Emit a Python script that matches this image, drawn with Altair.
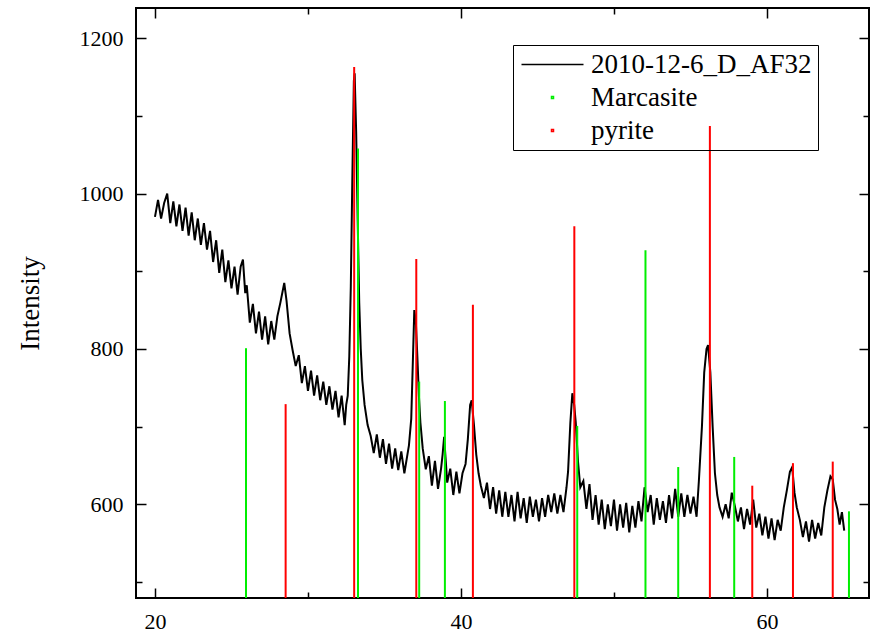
import altair as alt
import pandas as pd

# ---------------- data ----------------
two_theta = [
    20.0, 20.2, 20.4, 20.6, 20.8, 21.0, 21.2, 21.4, 21.6, 21.8, 22.0, 22.2, 22.4, 22.6, 22.8,
    23.0, 23.2, 23.4, 23.6, 23.8, 24.0, 24.2, 24.4, 24.6, 24.8, 25.0, 25.2, 25.4, 25.6, 25.75,
    25.9, 26.0, 26.2, 26.4, 26.6, 26.8, 27.0, 27.2, 27.4, 27.6, 27.8, 28.0, 28.2, 28.45, 28.6,
    28.8, 29.0, 29.2, 29.4, 29.6, 29.8, 30.0, 30.2, 30.4, 30.6, 30.8, 31.0, 31.2, 31.4, 31.6,
    31.8, 32.0, 32.2, 32.4, 32.5, 32.6, 32.7, 32.8, 32.9, 33.0, 33.05, 33.15, 33.25, 33.35, 33.45,
    33.55, 33.7, 33.9, 34.1, 34.3, 34.5, 34.7, 34.9, 35.1, 35.3, 35.5, 35.7, 35.9, 36.1, 36.3,
    36.5, 36.6, 36.75, 36.85, 36.95, 37.05, 37.15, 37.25, 37.35, 37.5, 37.7, 37.9, 38.1, 38.3, 38.5,
    38.7, 38.8, 38.9, 39.0, 39.1, 39.3, 39.5, 39.7, 39.9, 40.1, 40.3, 40.45, 40.6, 40.7, 40.85,
    41.0, 41.15, 41.3, 41.5, 41.7, 41.9, 42.1, 42.3, 42.5, 42.7, 42.9, 43.1, 43.3, 43.5, 43.7,
    43.9, 44.1, 44.3, 44.5, 44.7, 44.9, 45.1, 45.3, 45.5, 45.7, 45.9, 46.1, 46.3, 46.5, 46.7,
    46.9, 47.0, 47.15, 47.28, 47.4, 47.5, 47.65, 47.8, 48.0, 48.2, 48.4, 48.6, 48.8, 49.0, 49.2,
    49.4, 49.6, 49.8, 50.0, 50.2, 50.4, 50.6, 50.8, 51.0, 51.2, 51.4, 51.6, 51.8, 52.0, 52.2,
    52.4, 52.6, 52.8, 53.0, 53.2, 53.4, 53.6, 53.8, 54.0, 54.2, 54.4, 54.6, 54.8, 55.0, 55.2,
    55.4, 55.55, 55.75, 55.9, 56.05, 56.15, 56.3, 56.45, 56.6, 56.75, 56.9, 57.1, 57.3, 57.5, 57.7,
    57.9, 58.1, 58.3, 58.5, 58.7, 58.9, 59.1, 59.3, 59.5, 59.7, 59.9, 60.1, 60.3, 60.5, 60.7,
    60.9, 61.1, 61.3, 61.5, 61.65, 61.8, 61.95, 62.15, 62.35, 62.55, 62.75, 62.95, 63.15, 63.35, 63.55,
    63.75, 63.95, 64.15, 64.3, 64.45, 64.6, 64.75, 64.9, 65.05,
]
intensity = [
    970, 992, 968, 988, 1000, 962, 990, 958, 986, 952, 982, 946, 976, 940, 968,
    934, 962, 928, 952, 912, 940, 898, 928, 886, 914, 878, 906, 870, 906, 915,
    872, 882, 834, 858, 820, 848, 812, 842, 806, 836, 812, 842, 860, 885, 862,
    820, 798, 778, 792, 756, 778, 746, 772, 740, 766, 734, 758, 728, 752, 722,
    746, 712, 740, 702, 728, 740, 790, 880, 1020, 1145, 1155, 1080, 965, 860, 800,
    760, 728, 702, 688, 666, 690, 660, 684, 652, 678, 646, 672, 644, 668, 640,
    664, 676, 710, 780, 850, 835, 790, 740, 705, 672, 645, 662, 624, 656, 620,
    646, 664, 687, 658, 628, 646, 612, 642, 614, 640, 652, 684, 728, 734, 702,
    664, 640, 624, 608, 628, 594, 622, 588, 618, 584, 616, 584, 612, 578, 616,
    582, 608, 576, 610, 584, 606, 578, 608, 584, 612, 590, 614, 588, 612, 590,
    622, 642, 705, 743, 728, 706, 655, 622, 630, 594, 626, 580, 612, 574, 606,
    568, 600, 572, 606, 566, 600, 570, 602, 564, 598, 570, 604, 578, 622, 590,
    612, 574, 608, 580, 604, 576, 612, 582, 620, 584, 614, 584, 612, 588, 610,
    584, 630, 700, 770, 800, 805, 770, 700, 640, 612, 596, 584, 600, 582, 615,
    598, 578, 596, 568, 594, 574, 606, 570, 588, 560, 584, 556, 582, 554, 580,
    566, 596, 618, 642, 648, 615, 596, 580, 558, 578, 552, 580, 556, 576, 560,
    596, 618, 636, 632, 606, 594, 574, 590, 566,
]

marcasite_pos = [25.95, 33.27, 37.27, 38.95, 47.6, 52.06, 54.2, 57.86, 65.36]
marcasite_int = [801, 1058, 758, 733, 701, 927, 648, 661, 591]
pyrite_pos = [28.54, 33.02, 37.08, 40.78, 47.41, 56.27, 59.04, 61.7, 64.3]
pyrite_int = [729, 1163, 916, 857, 958, 1087, 624, 653, 655]

series_names = ["2010-12-6_D_AF32", "Marcasite", "pyrite"]
series_colors = ["#000000", "#00ee00", "#ff0000"]

x_domain = [18.76, 66.67]
y_domain = [479.4, 1239]
x_major = [20, 40, 60]
x_minor = [30, 50]
y_major = [600, 800, 1000, 1200]
y_minor = [500, 700, 900, 1100]

# ---------------- tables ----------------
pattern = pd.DataFrame({"x": two_theta, "y": intensity, "series": series_names[0]})
marc = pd.DataFrame({"x": marcasite_pos, "y": marcasite_int, "series": series_names[1]})
pyr = pd.DataFrame({"x": pyrite_pos, "y": pyrite_int, "series": series_names[2]})
marc["base"] = y_domain[0]
pyr["base"] = y_domain[0]

FONT = "Liberation Serif"
xs = alt.Scale(domain=x_domain, nice=False, zero=False)
ys = alt.Scale(domain=y_domain, nice=False, zero=False)


def ax(orient, values, size, labels=False, title=None, pad=13):
    kw = dict(
        orient=orient, values=values, tickSize=size, offset=-size, domain=False,
        grid=False, labels=labels, tickColor="black", tickWidth=1.5, format="d",
        labelFont=FONT, labelFontSize=22, labelColor="black", labelPadding=pad,
        labelFlush=False, labelOverlap=False,
    )
    if title is not None:
        kw.update(title=title, titleFont=FONT, titleFontSize=27, titleFontWeight="normal",
                  titleColor="black", titlePadding=35)
    else:
        kw.update(title=None)
    return alt.Axis(**kw)


LEAD = "datum.value == '2010-12-6_D_AF32'"
color = alt.Color(
    "series:N",
    scale=alt.Scale(domain=series_names, range=series_colors),
    legend=alt.Legend(
        title=None, orient="none", legendX=377, legendY=37,
        labelFont=FONT, labelFontSize=27, labelColor="black", labelLimit=0,
        labelOffset=25, rowPadding=5, padding=6,
        strokeColor="black",
        symbolOffset=20,
        symbolType=alt.ExprRef(expr=LEAD + " ? 'stroke' : 'square'"),
        symbolSize=alt.ExprRef(expr=LEAD + " ? 3844 : 4"),
        symbolStrokeWidth=1.5,
    ),
)

line = alt.Chart(pattern).mark_line(strokeWidth=2, clip=True).encode(
    x=alt.X("x:Q", scale=xs, axis=ax("bottom", x_major, 10, labels=True)),
    y=alt.Y("y:Q", scale=ys, axis=ax("left", y_major, 10, labels=True, title="Intensity")),
    color=color,
)

green = alt.Chart(marc).mark_rule(strokeWidth=2, clip=True).encode(
    x=alt.X("x:Q", scale=xs, axis=ax("bottom", x_minor, 6)),
    y=alt.Y("y:Q", scale=ys, axis=ax("left", y_minor, 6)),
    y2="base:Q",
    color=color,
)

red = alt.Chart(pyr).mark_rule(strokeWidth=2, clip=True).encode(
    x=alt.X("x:Q", scale=xs, axis=ax("top", x_major, 10)),
    y=alt.Y("y:Q", scale=ys, axis=ax("right", y_major, 10)),
    y2="base:Q",
    color=color,
)

ghost = alt.Chart(pyr).mark_rule(opacity=0).encode(
    x=alt.X("x:Q", scale=xs, axis=ax("top", x_minor, 6)),
    y=alt.Y("y:Q", scale=ys, axis=ax("right", y_minor, 6)),
    y2="base:Q",
)

chart = (
    alt.layer(line, green, red, ghost)
    .resolve_axis(x="independent", y="independent")
    .properties(
        width=733, height=590,
        autosize=alt.AutoSizeParams(type="none"),
        padding={"left": 136, "top": 8, "right": 5, "bottom": 33},
        background="white",
    )
    .configure_view(stroke="black", strokeWidth=2)
    .configure_axis(labelFont=FONT, titleFont=FONT)
    .configure_legend(labelFont=FONT)
    .configure_text(font=FONT)
)

chart.save("out.html", embed_options={"renderer": "svg", "actions": False})
